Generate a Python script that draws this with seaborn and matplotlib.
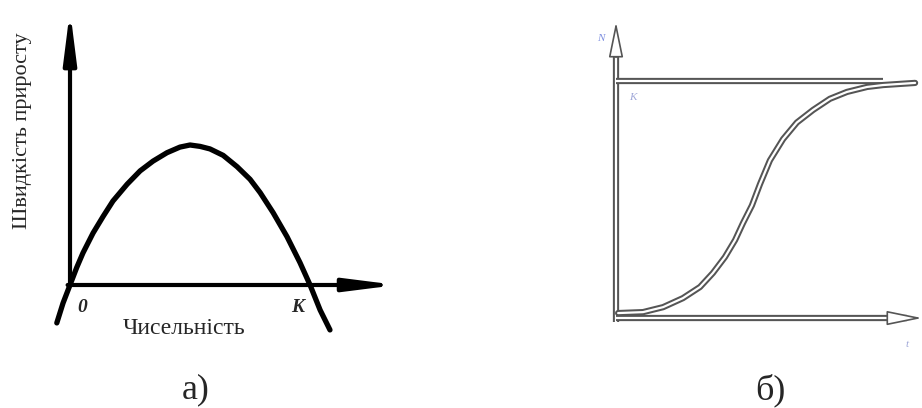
import matplotlib
matplotlib.use("Agg")
import matplotlib.pyplot as plt
import matplotlib.patheffects as pe
import pandas as pd
import seaborn as sns

# a) growth rate against population size (K = 1)
size_a = [-0.055, -0.029, 0.0, 0.028, 0.054, 0.096, 0.138, 0.179, 0.238, 0.292, 0.346, 0.404,
          0.458, 0.5, 0.542, 0.583, 0.638, 0.696, 0.75, 0.792, 0.846, 0.904, 0.958, 1.0, 1.042, 1.083]
rate_a = [-0.271, -0.129, 0.0, 0.125, 0.229, 0.371, 0.49, 0.60, 0.72, 0.815, 0.885, 0.945,
          0.985, 1.0, 0.99, 0.972, 0.926, 0.845, 0.755, 0.66, 0.517, 0.345, 0.16, 0.0, -0.179, -0.321]
label_x_a = "Чисельність"
label_y_a = "Швидкість приросту"
tick_zero = "0"
tick_k = "K"

# б) logistic growth, N in units of K
time_b = [0.07, 0.9, 1.57, 2.23, 2.8, 3.23, 3.63, 3.97, 4.23, 4.53, 4.8, 5.13, 5.57, 6.03,
          6.57, 7.13, 7.7, 8.37, 8.9, 9.97]
size_b = [0.021, 0.025, 0.046, 0.084, 0.131, 0.19, 0.257, 0.329, 0.40, 0.475, 0.565, 0.665,
          0.755, 0.825, 0.878, 0.925, 0.954, 0.975, 0.983, 0.992]
carrying = 1.0
axis_names_b = ["N", "K", "t"]

captions = ["а)", "б)"]

W, H = 922, 408

sns.set_style("white")
plt.rcParams['font.family'] = ['Liberation Serif', 'DejaVu Serif']

fig = plt.figure(figsize=(W / 100, H / 100), dpi=100)


def px_axes(x0, y0, x1, y1):
    ax = fig.add_axes([x0 / W, 1 - y1 / H, (x1 - x0) / W, (y1 - y0) / H])
    ax.set_axis_off()
    return ax


# ---------- a) ----------
ax = px_axes(40, 5, 420, 345)
ax.set_xlim(-0.125, 1.458)
ax.set_ylim(-0.4286, 2.0)

df_a = pd.DataFrame({"size": size_a, "rate": rate_a})
sns.lineplot(data=df_a, x="size", y="rate", sort=False, color="black", lw=3.8, ax=ax)

head = "-|>,head_length=3.0,head_width=0.38"
ax.annotate("", xy=(0, 1.964), xytext=(0, 0),
            arrowprops=dict(arrowstyle=head, color="black", lw=3, shrinkA=0, shrinkB=0))
ax.annotate("", xy=(1.3625, 0), xytext=(-0.01, 0),
            arrowprops=dict(arrowstyle=head, color="black", lw=3, shrinkA=0, shrinkB=0))

ax.text(0.05, -0.16, tick_zero, fontsize=14, fontweight="bold", style="italic", ha="center", va="center")
ax.text(0.95, -0.16, tick_k, fontsize=14, fontweight="bold", style="italic", ha="center", va="center")
ax.text(0.475, -0.31, label_x_a, fontsize=17, ha="center", va="center")
ax.text(-0.196, 1.10, label_y_a, fontsize=16, rotation=90, ha="center", va="center")

# ---------- б) ----------
bx = px_axes(590, 10, 922, 360)
bx.set_xlim(-0.867, 10.2)
bx.set_ylim(-0.177, 1.2996)

outline = [pe.Stroke(linewidth=4.5, foreground="#555555"), pe.Normal()]

bx.plot([0, 0], [-0.015, 1.12], color="white", lw=1.6, path_effects=outline, solid_capstyle="butt")
bx.plot([0, 9.7], [0, 0], color="white", lw=1.6, path_effects=outline, solid_capstyle="butt")
bx.plot([0, 8.9], [carrying, carrying], color="white", lw=1.6, path_effects=outline, solid_capstyle="butt")

df_b = pd.DataFrame({"time": time_b, "size": size_b})
sns.lineplot(data=df_b, x="time", y="size", sort=False, color="white", lw=1.6,
             path_effects=outline, solid_capstyle="round", ax=bx)

head_b = "-|>,head_length=2.2,head_width=0.45"
bx.annotate("", xy=(0, 1.249), xytext=(0, 1.10),
            arrowprops=dict(arrowstyle=head_b, fc="white", ec="#555555", lw=1.2, shrinkA=0, shrinkB=0))
bx.annotate("", xy=(10.2, 0), xytext=(9.6, 0),
            arrowprops=dict(arrowstyle=head_b, fc="white", ec="#555555", lw=1.2, shrinkA=0, shrinkB=0))

bx.text(-0.5, 1.18, axis_names_b[0], fontsize=8, color="#7f8fe0", style="italic", ha="center", va="center")
bx.text(0.57, 0.93, axis_names_b[1], fontsize=8, color="#a0a8d8", style="italic", ha="center", va="center")
bx.text(9.7, -0.11, axis_names_b[2], fontsize=8, color="#a0a8d8", style="italic", ha="center", va="center")

fig.text(196 / W, 1 - 390 / H, captions[0], fontsize=26, ha="center", va="center")
fig.text(770 / W, 1 - 390 / H, captions[1], fontsize=26, ha="center", va="center")

fig.savefig("out.png", dpi=100, facecolor="white")
